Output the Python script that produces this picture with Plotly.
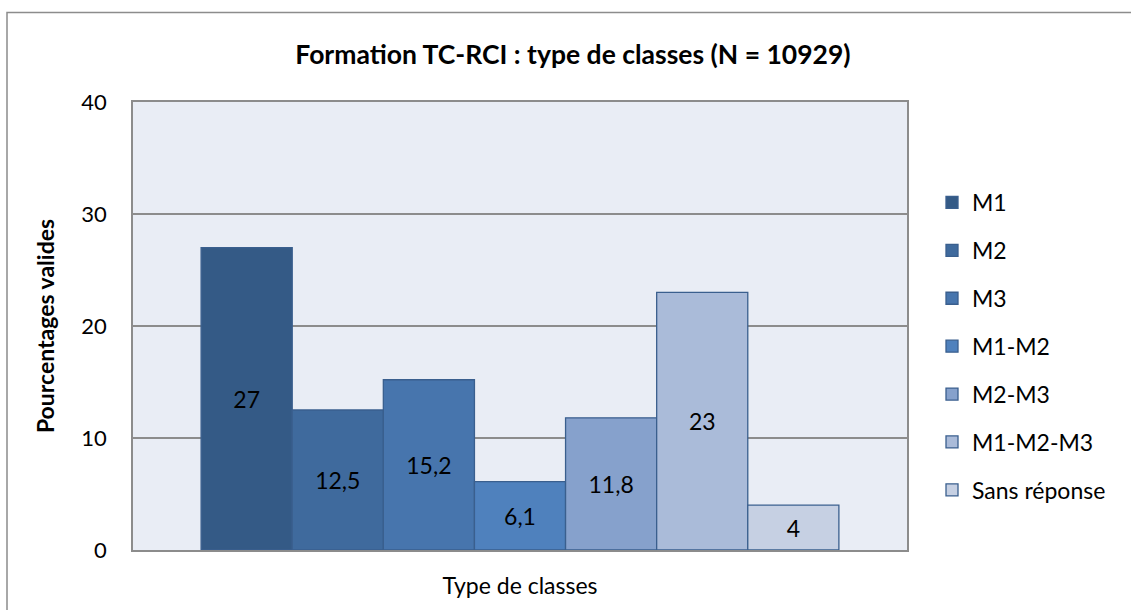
import plotly.graph_objects as go

categories = ["Type de classes"]
series_names = ["M1", "M2", "M3", "M1-M2", "M2-M3", "M1-M2-M3", "Sans réponse"]
values = [27, 12.5, 15.2, 6.1, 11.8, 23, 4]
labels = ["27", "12,5", "15,2", "6,1", "11,8", "23", "4"]
colors = ["#345A86", "#3F6A9D", "#4775AD", "#4F81BD", "#86A1CC", "#AABBD9", "#C6D0E3"]
yticks = [0, 10, 20, 30, 40]

FONT = "Lato, 'Open Sans', sans-serif"

fig = go.Figure()
for name, v, lab, c in zip(series_names, values, labels, colors):
    fig.add_trace(go.Bar(
        x=categories, y=[v], name=name, text=[lab],
        textposition="inside", insidetextanchor="middle",
        textfont=dict(size=23, color="black", family=FONT),
        marker=dict(color=c, line=dict(color="#3A5F8E", width=1.3)),
        legendgroup=name,
    ))

L, T, W, H = 133, 102, 774, 448
fig.update_layout(
    width=1131, height=610,
    margin=dict(l=L, r=1131 - L - W, t=T, b=610 - T - H),
    barmode="group", bargap=0.176, bargroupgap=0,
    plot_bgcolor="#E9EDF5", paper_bgcolor="white",
    font=dict(family=FONT, size=23, color="black"),
    title=dict(text="<b>Formation TC-RCI : type de classes (N = 10929)</b>",
               x=573 / 1131, xanchor="center", y=1 - 55 / 610, yanchor="middle",
               font=dict(size=26.5, family=FONT)),
    showlegend=True,
    legend=dict(x=(932 - L) / W, xanchor="left", y=1 - (181 - T) / H, yanchor="top",
                font=dict(size=23, family=FONT), tracegroupgap=15,
                itemwidth=30, bgcolor="rgba(0,0,0,0)"),
)
fig.update_yaxes(range=[0, 40], tickvals=yticks, showgrid=True, gridcolor="#8C8C8C",
                 gridwidth=1.5, showline=True, linecolor="#8C8C8C", linewidth=1.5,
                 mirror=True, ticks="", ticklen=0, zeroline=False,
                 tickfont=dict(size=22), ticklabelstandoff=20,
                 title=dict(text="<b>Pourcentages valides</b>", font=dict(size=23), standoff=20))
fig.update_xaxes(showticklabels=False, showline=True, linecolor="#8C8C8C", linewidth=2,
                 mirror=True,
                 title=dict(text="Type de classes", font=dict(size=23), standoff=27))

# outer chart frame
fig.add_shape(type="rect", xref="paper", yref="paper",
              x0=(7 - L) / W, x1=(1140 - L) / W,
              y0=1 - (620 - T) / H, y1=1 + (T - 12.5) / H,
              line=dict(color="#8C8C8C", width=1.5), fillcolor="rgba(0,0,0,0)", layer="below")

fig.write_html("out.html", config={"displayModeBar": False},
               post_script="document.body.style.margin='0';")
